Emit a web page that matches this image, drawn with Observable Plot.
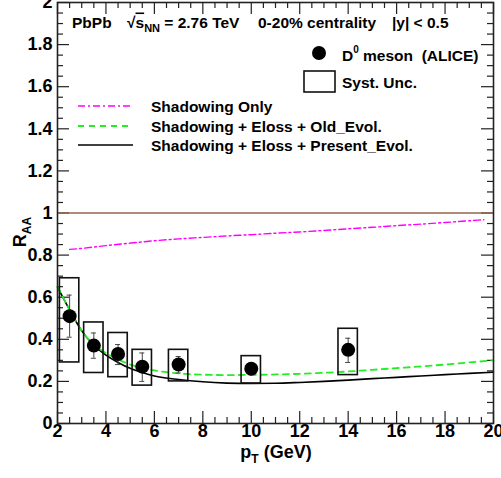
<!DOCTYPE html>
<html>
<head>
<meta charset="utf-8">
<script src="https://cdn.jsdelivr.net/npm/d3@7"></script>
<script src="https://cdn.jsdelivr.net/npm/@observablehq/plot@0.6"></script>
<style>
  html, body { margin: 0; padding: 0; background: #fff; }
  svg text { white-space: pre; }
</style>
</head>
<body>
<div id="chart"></div>
<script>
// ---- Data ----
const ptD0     = [2.5, 3.5, 4.5, 5.5, 7, 10, 14];
const raaD0    = [0.51, 0.37, 0.33, 0.27, 0.28, 0.26, 0.35];
const statLo   = [0.41, 0.31, 0.28, 0.20, 0.24, 0.24, 0.29];
const statHi   = [0.61, 0.43, 0.375, 0.335, 0.318, 0.28, 0.405];
const systLo   = [0.29, 0.24, 0.22, 0.18, 0.20, 0.19, 0.23];
const systHi   = [0.69, 0.48, 0.43, 0.35, 0.35, 0.32, 0.45];

const ptModel  = [2, 2.5, 3, 3.5, 4, 4.5, 5, 5.5, 6, 7, 8, 9, 10, 11, 12, 13, 14, 15, 16, 17, 18, 19, 20];
const presentEvol = [0.648, 0.54, 0.44, 0.372, 0.325, 0.29, 0.262, 0.242, 0.226, 0.209, 0.198, 0.192, 0.19, 0.191, 0.195, 0.20, 0.206, 0.213, 0.219, 0.226, 0.232, 0.238, 0.244];
const oldEvol     = [0.65, 0.54, 0.44, 0.375, 0.335, 0.305, 0.28, 0.265, 0.252, 0.238, 0.232, 0.23, 0.231, 0.233, 0.236, 0.241, 0.247, 0.255, 0.263, 0.271, 0.28, 0.29, 0.30];

const ptShadow   = [2.5, 3, 4, 5, 6, 7, 8, 9, 10, 11, 12, 13, 14, 15, 16, 17, 18, 19, 19.6];
const shadowOnly = [0.827, 0.832, 0.845, 0.857, 0.868, 0.877, 0.884, 0.891, 0.897, 0.904, 0.91, 0.917, 0.925, 0.932, 0.94, 0.947, 0.955, 0.963, 0.968];

const referenceLine = [1];

const xTickLabels = [2, 4, 6, 8, 10, 12, 14, 16, 18, 20];
const yTickLabels = [0, 0.2, 0.4, 0.6, 0.8, 1, 1.2, 1.4, 1.6, 1.8, 2];
const xMinorTicks = d3.range(2, 20.001, 0.5);
const yMinorTicks = d3.range(0, 2.001, 0.05);

// ---- Build tables ----
const d0 = ptD0.map((pt, i) => ({pt, raa: raaD0[i], slo: statLo[i], shi: statHi[i], ylo: systLo[i], yhi: systHi[i]}));
const present = ptModel.map((pt, i) => ({pt, r: presentEvol[i]}));
const old = ptModel.map((pt, i) => ({pt, r: oldEvol[i]}));
const shadow = ptShadow.map((pt, i) => ({pt, r: shadowOnly[i]}));

const W = 501, H = 478;
const mL = 57, mR = 8, mT = 2, mB = 55;
const innerW = W - mL - mR, innerH = H - mT - mB;
const X0 = 2, X1 = 20, Y0 = 0, Y1 = 2;
const pxX = (X1 - X0) / innerW;   // data units per pixel (x)
const pxY = (Y1 - Y0) / innerH;   // data units per pixel (y)
const boxHalf = 0.4;
const majorLen = 12, minorLen = 6;
const isMajorX = v => Math.abs(v / 2 - Math.round(v / 2)) < 1e-6;
const isMajorY = v => Math.abs(v / 0.2 - Math.round(v / 0.2)) < 1e-6;
const xMin = xMinorTicks.filter(v => !isMajorX(v));
const yMin = yMinorTicks.filter(v => !isMajorY(v));
const fmt = d => String(Math.round(d * 10) / 10);

const tickColor = "#222";
const tk = {stroke: tickColor, strokeWidth: 1.2};

const plot = Plot.plot({
  width: W, height: H,
  marginLeft: mL, marginRight: mR, marginTop: mT, marginBottom: mB,
  style: {fontFamily: "'Liberation Sans', Arial, sans-serif", fontWeight: "bold", background: "#fff", color: "#000"},
  x: {domain: [X0, X1]},
  y: {domain: [Y0, Y1]},
  marks: [
    // axis labels
    Plot.axisX(xTickLabels, {anchor: "bottom", tickSize: 0, tickPadding: 1, fontSize: 18, tickFormat: fmt, label: null}),
    Plot.axisY(yTickLabels, {anchor: "left", tickSize: 0, tickPadding: 5, fontSize: 18, tickFormat: fmt, label: null}),
    // bottom/top ticks (inward)
    Plot.ruleX(xTickLabels, {x: d => d, y1: Y0, y2: Y0 + majorLen * pxY, ...tk}),
    Plot.ruleX(xMin, {x: d => d, y1: Y0, y2: Y0 + minorLen * pxY, ...tk}),
    Plot.ruleX(xTickLabels, {x: d => d, y1: Y1, y2: Y1 - majorLen * pxY, ...tk}),
    Plot.ruleX(xMin, {x: d => d, y1: Y1, y2: Y1 - minorLen * pxY, ...tk}),
    // left/right ticks (inward)
    Plot.ruleY(yTickLabels, {y: d => d, x1: X0, x2: X0 + majorLen * pxX, ...tk}),
    Plot.ruleY(yMin, {y: d => d, x1: X0, x2: X0 + minorLen * pxX, ...tk}),
    Plot.ruleY(yTickLabels, {y: d => d, x1: X1, x2: X1 - majorLen * pxX, ...tk}),
    Plot.ruleY(yMin, {y: d => d, x1: X1, x2: X1 - minorLen * pxX, ...tk}),
    // reference line
    Plot.ruleY(referenceLine, {y: d => d, stroke: "#94664c", strokeWidth: 1.6}),
    // model curves
    Plot.line(shadow, {x: "pt", y: "r", stroke: "#ff00ff", strokeWidth: 1.4, strokeDasharray: "7,3,2,3", curve: "monotone-x"}),
    Plot.line(present, {x: "pt", y: "r", stroke: "#000", strokeWidth: 1.6, curve: "monotone-x"}),
    Plot.line(old, {x: "pt", y: "r", stroke: "#22ee22", strokeWidth: 1.8, strokeDasharray: "6,5", curve: "monotone-x"}),
    // systematic boxes
    Plot.rect(d0, {x1: d => d.pt - boxHalf, x2: d => d.pt + boxHalf, y1: "ylo", y2: "yhi", fill: "none", stroke: "#111", strokeWidth: 1.6}),
    // stat error bars
    Plot.ruleX(d0, {x: "pt", y1: "slo", y2: "shi", stroke: "#444", strokeWidth: 1}),
    Plot.ruleY(d0, {y: "shi", x1: "pt", x2: "pt", insetLeft: -2.5, insetRight: -2.5, stroke: "#444", strokeWidth: 1}),
    Plot.ruleY(d0, {y: "slo", x1: "pt", x2: "pt", insetLeft: -2.5, insetRight: -2.5, stroke: "#444", strokeWidth: 1}),
    // markers
    Plot.dot(d0, {x: "pt", y: "raa", r: 7, fill: "#000", stroke: "none"}),
    Plot.frame({stroke: "#222", strokeWidth: 1.6})
  ]
});

document.getElementById("chart").appendChild(plot);

// ---- Texts and legend drawn into the same SVG ----
const svg = d3.select(plot);
const g = svg.append("g")
  .attr("font-family", "'Liberation Sans', Arial, sans-serif")
  .attr("font-weight", "bold")
  .attr("text-anchor", "start")
  .attr("fill", "#000");

// Header line
const hy = 27.5, hfs = 15.5;
g.append("text").attr("x", 72).attr("y", hy).attr("font-size", hfs).text("PbPb");
const sq = g.append("text").attr("x", 127).attr("y", hy).attr("font-size", hfs);
sq.append("tspan").text("\u221A");
sq.append("tspan").attr("text-decoration", "overline").text("s");
sq.append("tspan").attr("font-size", 11).attr("dy", 4).text("NN");
sq.append("tspan").attr("dy", -4).text(" = 2.76 TeV");
g.append("text").attr("x", 258).attr("y", hy).attr("font-size", hfs).text("0-20% centrality");
g.append("text").attr("x", 392).attr("y", hy).attr("font-size", hfs).text("|y| < 0.5");

// Legend: D0 marker
g.append("circle").attr("cx", 319).attr("cy", 53).attr("r", 7).attr("fill", "#000");
const dl = g.append("text").attr("x", 342).attr("y", 60.5).attr("font-size", hfs);
dl.append("tspan").text("D");
dl.append("tspan").attr("font-size", 10).attr("dy", -8).text("0");
dl.append("tspan").attr("dy", 8).text(" meson  (ALICE)");

// Legend: syst box
g.append("rect").attr("x", 304).attr("y", 71).attr("width", 31).attr("height", 21).attr("fill", "none").attr("stroke", "#111").attr("stroke-width", 1.6);
g.append("text").attr("x", 342).attr("y", 87.5).attr("font-size", hfs).text("Syst. Unc.");

// Legend: model lines
const legLines = [
  {y: 106, stroke: "#ff00ff", dash: "7,3,2,3", w: 1.4, label: "Shadowing Only"},
  {y: 126, stroke: "#22ee22", dash: "6,5", w: 1.8, label: "Shadowing + Eloss + Old_Evol."},
  {y: 145, stroke: "#000", dash: null, w: 1.6, label: "Shadowing + Eloss + Present_Evol."}
];
legLines.forEach(l => {
  const ln = g.append("line").attr("x1", 78).attr("x2", 133).attr("y1", l.y).attr("y2", l.y)
    .attr("stroke", l.stroke).attr("stroke-width", l.w);
  if (l.dash) ln.attr("stroke-dasharray", l.dash);
  g.append("text").attr("x", 151).attr("y", l.y + 5.5).attr("font-size", hfs).text(l.label);
});

// Axis titles
const xt = g.append("text").attr("x", 276).attr("y", 458).attr("font-size", 18).attr("text-anchor", "middle");
xt.append("tspan").text("p");
xt.append("tspan").attr("font-size", 12).attr("dy", 5).text("T");
xt.append("tspan").attr("dy", -5).text(" (GeV)");

const yt = g.append("text").attr("transform", "translate(26,232) rotate(-90)").attr("font-size", 18).attr("text-anchor", "middle");
yt.append("tspan").text("R");
yt.append("tspan").attr("font-size", 12).attr("dy", 5).text("AA");
</script>
</body>
</html>
